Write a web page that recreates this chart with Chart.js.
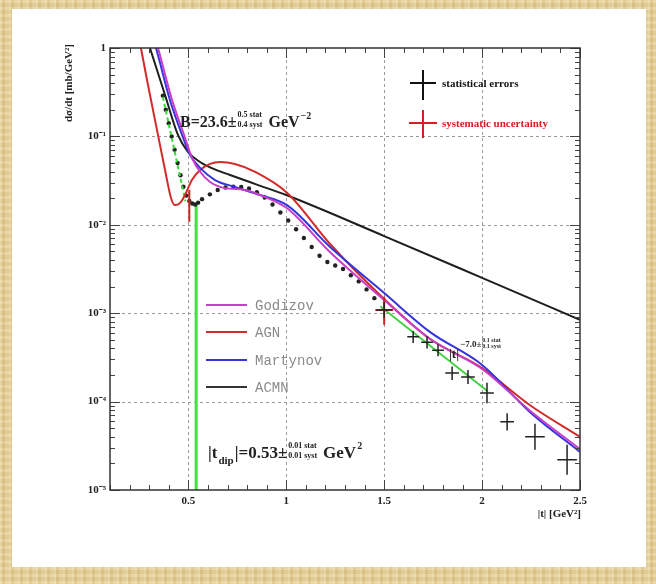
<!DOCTYPE html>
<html><head><meta charset="utf-8">
<script src="https://cdn.jsdelivr.net/npm/chart.js@4.4.1/dist/chart.umd.min.js"></script>
<style>
html,body{margin:0;padding:0;}
body{width:656px;height:584px;overflow:hidden;position:relative;
 background-color:#e3cb90;
 background-image:
  repeating-linear-gradient(90deg, rgba(255,250,230,0.25) 0 2px, rgba(120,90,30,0.06) 2px 5px, rgba(255,255,255,0.10) 5px 9px),
  repeating-linear-gradient(0deg, rgba(255,250,230,0.15) 0 3px, rgba(120,90,30,0.05) 3px 7px);}
#panel{position:absolute;left:12px;top:9px;width:634px;height:558px;background:#fff;}
#wrap{position:absolute;left:0;top:0;width:656px;height:584px;}
</style></head><body>
<div id="panel"></div>
<div id="wrap"><canvas id="c" width="656" height="584"></canvas></div>
<script>
// ---- tick labels ----
const xTickVals = [0.5, 1, 1.5, 2, 2.5];
const xTickLabels = ['0.5', '1', '1.5', '2', '2.5'];
const yTickVals = [1e-5, 1e-4, 1e-3, 1e-2, 1e-1, 1];
const yTickLabels = ['10\u207B\u2075', '10\u207B\u2074', '10\u207B\u00B3', '10\u207B\u00B2', '10\u207B\u00B9', '1'];

// ---- theory curves ----
const godizovT = [0.31, 0.345, 0.417, 0.478, 0.519, 0.56, 0.611, 0.687, 0.79, 0.892, 1.004, 1.224, 1.5, 1.735, 2.0, 2.245, 2.5];
const godizovS = [1.8, 1.0, 0.258, 0.104, 0.057, 0.0398, 0.0305, 0.026, 0.0248, 0.0206, 0.0154, 0.0049, 0.00141, 5.1e-4, 2.34e-4, 7.9e-5, 2.9e-5];

const agnT = [0.23, 0.258, 0.289, 0.345, 0.381, 0.412, 0.432, 0.458, 0.483, 0.519, 0.56, 0.611, 0.662, 0.738, 0.841, 1.004, 1.224, 1.5, 1.735, 2.0, 2.245, 2.5];
const agnS = [2.1, 1.0, 0.435, 0.104, 0.0417, 0.0200, 0.0167, 0.0177, 0.0217, 0.0323, 0.0417, 0.0488, 0.0513, 0.0488, 0.0398, 0.0231, 0.00607, 0.00145, 5.1e-4, 2.4e-4, 9.1e-5, 4.0e-5];

const martynovT = [0.31, 0.335, 0.406, 0.468, 0.509, 0.56, 0.636, 0.738, 0.866, 1.004, 1.224, 1.5, 1.735, 2.0, 2.245, 2.5];
const martynovS = [1.5, 1.0, 0.258, 0.104, 0.0617, 0.044, 0.0321, 0.0268, 0.0217, 0.0167, 0.0056, 0.00169, 6.1e-4, 2.6e-4, 7.6e-5, 2.7e-5];

const acmnT = [0.285, 0.304, 0.381, 0.447, 0.498, 0.56, 0.62, 0.713, 0.85, 1.0, 1.5, 2.0, 2.5];
const acmnS = [1.35, 1.0, 0.294, 0.104, 0.0667, 0.0513, 0.0437, 0.0366, 0.0285, 0.0217, 0.00746, 0.00251, 8.4e-4];

// ---- measured points (small |t|) ----
const dataT = [0.370, 0.385, 0.400, 0.415, 0.430, 0.445, 0.460, 0.475, 0.490, 0.505, 0.520, 0.535, 0.550,
  0.57, 0.61, 0.65, 0.69, 0.73, 0.77, 0.81, 0.85, 0.89, 0.93, 0.97, 1.01, 1.05, 1.09, 1.13, 1.17, 1.21,
  1.25, 1.29, 1.33, 1.37, 1.41, 1.45];
const dataS = [0.288, 0.20, 0.141, 0.10, 0.0708, 0.0501, 0.0363, 0.0269, 0.0214, 0.0186, 0.0174, 0.0170, 0.0178,
  0.0195, 0.0221, 0.0248, 0.0264, 0.0270, 0.0268, 0.0257, 0.0234, 0.0204, 0.0170, 0.0138, 0.0112, 0.0089, 0.0071, 0.0056, 0.00447, 0.0038,
  0.00347, 0.00316, 0.00269, 0.00229, 0.00186, 0.00148];

// ---- measured points (large |t|) with statistical errors ----
const bigT  = [1.5, 1.648, 1.719, 1.775, 1.847, 1.928, 2.025, 2.128, 2.27, 2.434];
const bigS  = [1.09e-3, 5.4e-4, 4.7e-4, 3.8e-4, 2.1e-4, 1.9e-4, 1.25e-4, 5.9e-5, 4.0e-5, 2.2e-5];
const bigLo = [8.9e-4, 4.6e-4, 4.0e-4, 3.25e-4, 1.75e-4, 1.58e-4, 9.6e-5, 4.7e-5, 2.86e-5, 1.49e-5];
const bigHi = [1.34e-3, 6.3e-4, 5.5e-4, 4.45e-4, 2.5e-4, 2.28e-4, 1.63e-4, 7.4e-5, 5.6e-5, 3.26e-5];
const bigDT = [0.04, 0.03, 0.03, 0.03, 0.035, 0.035, 0.035, 0.035, 0.05, 0.05];

// ---- systematic uncertainties ----
const sysT  = [0.505, 1.5];
const sysS  = [0.0186, 1.09e-3];
const sysLo = [0.0108, 7.4e-4];
const sysHi = [0.0248, 1.53e-3];
const sysDT = [0, 0.045];

// ---- fits ----
const expFitT = [0.37, 0.485];
const expFitS = [0.28, 0.0185];
const dipT = [0.54, 0.54];
const dipS = [0.0175, 1e-5];
const powFitT = [1.48, 2.03];
const powFitS = [1.2e-3, 1.3e-4];

const pts = (ts, ss) => ts.map((t, i) => ({x: t, y: ss[i]}));
const curve = (ts, ss, col, w) => ({data: pts(ts, ss), showLine: true, borderColor: col, borderWidth: w || 2,
  pointRadius: 0, fill: false, cubicInterpolationMode: 'monotone'});

const SERIF = '"Liberation Serif", "Times New Roman", serif';
const MONO = '"Liberation Mono", "Courier New", monospace';

const overlay = {
  id: 'overlay',
  beforeDatasetsDraw(chart) {
    const {ctx, chartArea: a, scales: {x, y}} = chart;
    ctx.save();
    ctx.strokeStyle = '#9a9a9a';
    ctx.lineWidth = 1;
    ctx.setLineDash([3, 3]);
    ctx.beginPath();
    xTickVals.forEach(v => {
      const px = Math.round(x.getPixelForValue(v)) + 0.5;
      if (px > a.left + 2 && px < a.right - 2) { ctx.moveTo(px, a.top); ctx.lineTo(px, a.bottom); }
    });
    yTickVals.forEach(v => {
      const py = Math.round(y.getPixelForValue(v)) + 0.5;
      if (py > a.top + 2 && py < a.bottom - 2) { ctx.moveTo(a.left, py); ctx.lineTo(a.right, py); }
    });
    ctx.stroke();
    ctx.restore();
  },
  afterDatasetsDraw(chart) {
    const {ctx, chartArea: a, scales: {x, y}} = chart;
    ctx.save();
    ctx.beginPath(); ctx.rect(a.left, a.top, a.right - a.left, a.bottom - a.top); ctx.clip();
    const bar = (t, lo, hi, s, dt, col, w) => {
      const px = x.getPixelForValue(t), py = y.getPixelForValue(s);
      ctx.strokeStyle = col; ctx.lineWidth = w;
      ctx.beginPath();
      ctx.moveTo(px, y.getPixelForValue(lo)); ctx.lineTo(px, y.getPixelForValue(hi));
      if (dt > 0) { ctx.moveTo(x.getPixelForValue(t - dt), py); ctx.lineTo(x.getPixelForValue(t + dt), py); }
      ctx.stroke();
    };
    sysT.forEach((t, i) => bar(t, sysLo[i], sysHi[i], sysS[i], sysDT[i], '#d42020', 2));
    bigT.forEach((t, i) => bar(t, bigLo[i], bigHi[i], bigS[i], bigDT[i], '#222', 1.5));
    ctx.restore();

    // ---- annotations ----
    ctx.save();
    ctx.fillStyle = '#222';
    ctx.textBaseline = 'alphabetic';
    const put = (txt, px, py, size, col, font) => {
      ctx.font = 'bold ' + size + 'px ' + (font || SERIF);
      ctx.fillStyle = col || '#222';
      ctx.fillText(txt, px, py);
      return px + ctx.measureText(txt).width;
    };
    // B slope
    let cx = put('B=23.6\u00B1', 180, 127, 16);
    put('0.5 stat', cx + 1, 117, 8);
    let c2 = put('0.4 syst', cx + 1, 127, 8);
    cx = put('GeV', c2 + 6, 127, 16);
    put('\u22122', cx + 1, 119, 10);
    // dip position
    cx = put('|t', 208, 458, 17);
    cx = put('dip', cx + 1, 464, 11);
    cx = put('|=0.53\u00B1', cx + 1, 458, 17);
    put('0.01 stat', cx + 1, 448, 8);
    c2 = put('0.01 syst', cx + 1, 458, 8);
    cx = put('GeV', c2 + 6, 458, 17);
    put('2', cx + 1, 449, 10);
    // power law
    cx = put('|t|', 449, 358, 13);
    cx = put('\u22127.0\u00B1', cx + 1, 347, 9);
    put('0.1 stat', cx + 1, 342, 6);
    put('0.1 syst', cx + 1, 348, 6);

    // legend: errors
    ctx.lineWidth = 2;
    ctx.strokeStyle = '#111';
    ctx.beginPath(); ctx.moveTo(423, 70); ctx.lineTo(423, 100); ctx.moveTo(410, 83); ctx.lineTo(436, 83); ctx.stroke();
    put('statistical errors', 442, 87, 11, '#111');
    ctx.strokeStyle = '#d42020';
    ctx.beginPath(); ctx.moveTo(423, 110); ctx.lineTo(423, 138); ctx.moveTo(409, 123); ctx.lineTo(437, 123); ctx.stroke();
    put('systematic uncertainty', 442, 127, 11, '#d42020');

    // legend: models
    const models = [['Godizov', '#c83ec8', 305], ['AGN', '#d42a2a', 332], ['Martynov', '#3535dd', 360], ['ACMN', '#333', 387]];
    models.forEach(m => {
      ctx.strokeStyle = m[1]; ctx.lineWidth = 2;
      ctx.beginPath(); ctx.moveTo(206, m[2]); ctx.lineTo(247, m[2]); ctx.stroke();
      ctx.font = '14px ' + MONO; ctx.fillStyle = '#8a8a8a';
      ctx.fillText(m[0], 255, m[2] + 5);
    });

    // axis titles
    ctx.font = 'bold 11px ' + SERIF; ctx.fillStyle = '#222';
    ctx.textAlign = 'right';
    ctx.fillText('|t| [GeV\u00B2]', 581, 517);
    ctx.translate(72, 44); ctx.rotate(-Math.PI / 2);
    ctx.fillText('d\u03C3/dt [mb/GeV\u00B2]', 0, 0);
    ctx.restore();
  },
  afterDraw(chart) {
    const {ctx, chartArea: a, scales: {x, y}} = chart;
    ctx.save();
    ctx.strokeStyle = '#444';
    ctx.lineWidth = 1;
    ctx.beginPath();
    // x ticks every 0.1, major every 0.5
    for (let k = 1; k <= 25; k++) {
      const v = k / 10;
      const px = Math.round(x.getPixelForValue(v)) + 0.5;
      const len = (k % 5 === 0) ? 10 : 5;
      ctx.moveTo(px, a.bottom); ctx.lineTo(px, a.bottom - len);
      ctx.moveTo(px, a.top); ctx.lineTo(px, a.top + len);
    }
    // y ticks
    for (let d = -5; d <= 0; d++) {
      for (let m = 1; m <= 9; m++) {
        if (d === 0 && m > 1) break;
        const py = Math.round(y.getPixelForValue(m * Math.pow(10, d))) + 0.5;
        const len = m === 1 ? 10 : 5;
        ctx.moveTo(a.left, py); ctx.lineTo(a.left + len, py);
        ctx.moveTo(a.right, py); ctx.lineTo(a.right - len, py);
      }
    }
    ctx.stroke();
    ctx.lineWidth = 1.5;
    ctx.strokeStyle = '#333';
    ctx.strokeRect(a.left, a.top, a.right - a.left, a.bottom - a.top);
    ctx.restore();
  }
};

new Chart(document.getElementById('c'), {
  type: 'scatter',
  data: {
    datasets: [
      curve(godizovT, godizovS, '#c83ec8'),
      curve(martynovT, martynovS, '#3535dd'),
      curve(agnT, agnS, '#d42a2a'),
      curve(acmnT, acmnS, '#1e1e1e'),
      {data: pts(expFitT, expFitS), showLine: true, borderColor: '#3ad83a', borderWidth: 2, borderDash: [4, 3], pointRadius: 0},
      {data: pts(dataT, dataS), showLine: false, pointRadius: 2.2, backgroundColor: '#222', borderWidth: 0},
      {data: pts(dipT, dipS), showLine: true, borderColor: '#44e044', borderWidth: 3, pointRadius: 0},
      {data: pts(powFitT, powFitS), showLine: true, borderColor: '#44d044', borderWidth: 2, pointRadius: 0},
      {data: pts(bigT, bigS), showLine: false, pointRadius: 0}
    ]
  },
  options: {
    responsive: false, animation: false, devicePixelRatio: 1,
    layout: {padding: {left: 0, top: 48, right: 76, bottom: 0}},
    plugins: {legend: {display: false}, tooltip: {enabled: false}},
    scales: {
      x: {
        type: 'linear', min: 0.1, max: 2.5,
        afterFit: s => { s.height = 94; },
        afterBuildTicks: s => { s.ticks = xTickVals.map(v => ({value: v})); },
        ticks: {callback: (v, i) => xTickLabels[i], font: {family: SERIF, size: 11, weight: 'bold'}, color: '#222', padding: 5, maxRotation: 0, autoSkip: false},
        grid: {display: false, drawTicks: false},
        border: {display: false}
      },
      y: {
        type: 'logarithmic', min: 1e-5, max: 1,
        afterFit: s => { s.width = 110; },
        afterBuildTicks: s => { s.ticks = yTickVals.map(v => ({value: v})); },
        ticks: {callback: (v, i) => yTickLabels[i], font: {family: SERIF, size: 11, weight: 'bold'}, color: '#222', padding: 4, autoSkip: false},
        grid: {display: false, drawTicks: false},
        border: {display: false}
      }
    }
  },
  plugins: [overlay]
});
</script></body></html>
